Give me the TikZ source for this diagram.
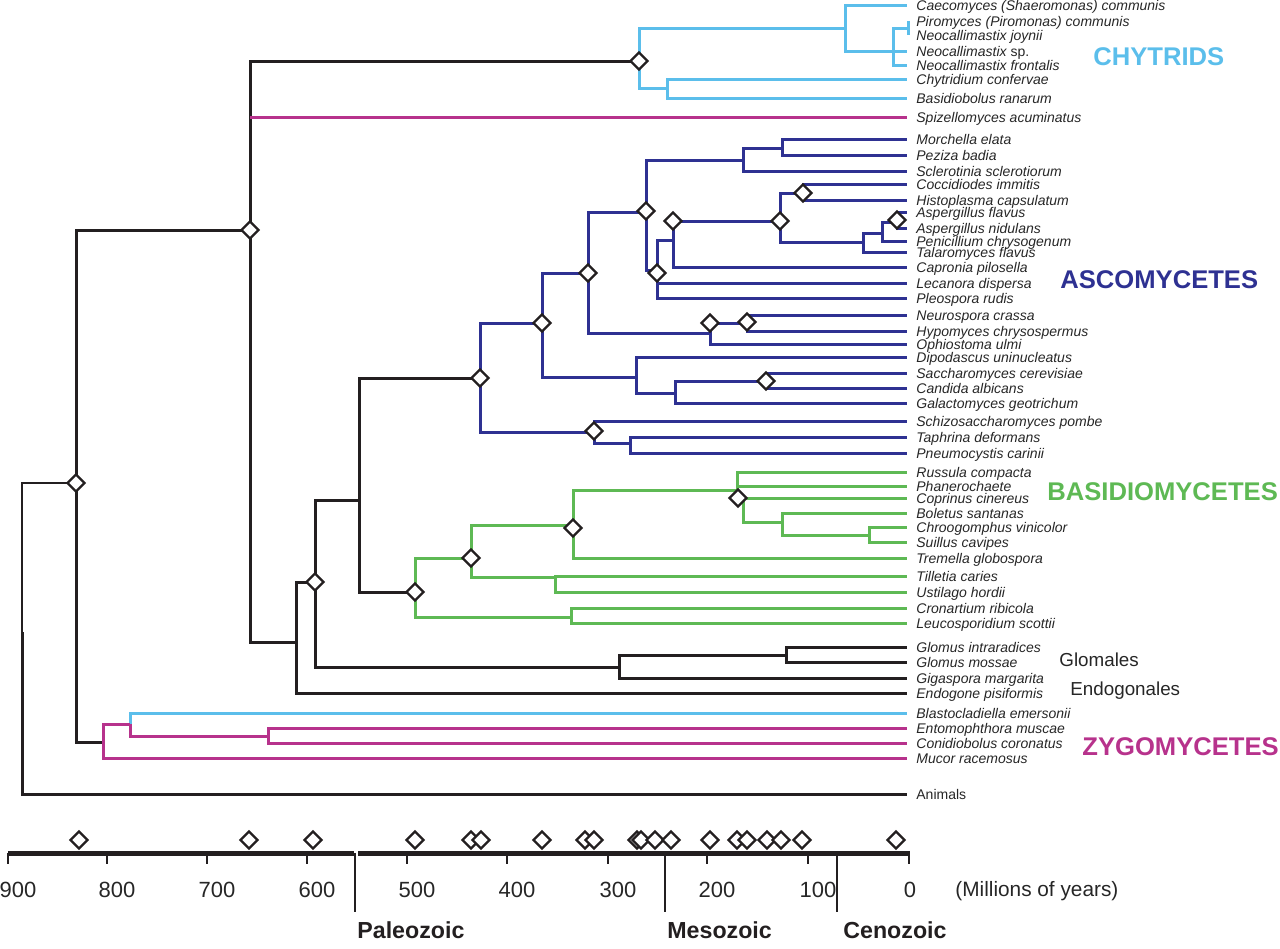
\documentclass[tikz,border=0pt]{standalone}
\usepackage{fontspec}
\setmainfont{Liberation Sans}
\usetikzlibrary{shapes.geometric}
\definecolor{chytblue}{HTML}{5BBEEB}
\definecolor{ascoblue}{HTML}{2E3192}
\definecolor{basigreen}{HTML}{5EB954}
\definecolor{zygomag}{HTML}{B7328C}
\definecolor{treeblack}{HTML}{231F20}

\begin{document}
\begin{tikzpicture}[x=0.5pt, y=-0.5pt,
    br/.style={line width=1.5pt},
    blk/.style={br, draw=treeblack},
    chy/.style={br, draw=chytblue},
    asc/.style={br, draw=ascoblue},
    bas/.style={br, draw=basigreen},
    zyg/.style={br, draw=zygomag},
    tip/.style={anchor=west, inner xsep=4.5pt, inner ysep=0pt, text height=5pt, text depth=0pt,
      font=\fontsize{7}{8}\selectfont\itshape, text=black!85},
    dia/.style={diamond, draw=treeblack, fill=white, line width=1.2pt, inner sep=0pt, minimum size=9pt},
    group/.style={anchor=base west, inner sep=0pt, font=\fontsize{12.8}{14}\selectfont\bfseries},
    order/.style={anchor=base west, inner sep=0pt, font=\fontsize{9.4}{11}\selectfont, text=black!85},
    era/.style={anchor=base west, inner sep=0pt, font=\fontsize{11.6}{13}\selectfont\bfseries, text=treeblack},
    tick/.style={anchor=base, inner sep=0pt, font=\fontsize{11}{12}\selectfont, text=black!85}]
  \useasboundingbox (0,0) rectangle (1280,948);

  % taxa
  \foreach \n/\y/\t in {caec/5/{Caecomyces (Shaeromonas) communis}, piro/21/{Piromyces (Piromonas) communis},
      njoy/35/{Neocallimastix joynii}, nsp/51/{Neocallimastix \upshape sp.}, nfro/65/{Neocallimastix frontalis},
      chyt/79/{Chytridium confervae}, basi/98/{Basidiobolus ranarum}, spiz/117/{Spizellomyces acuminatus},
      morc/139/{Morchella elata}, pezi/155/{Peziza badia}, scle/171/{Sclerotinia sclerotiorum},
      cocc/184/{Coccidiodes immitis}, hist/200/{Histoplasma capsulatum}, aflav/212/{Aspergillus flavus},
      anid/228/{Aspergillus nidulans}, peni/241/{Penicillium chrysogenum}, tala/252/{Talaromyces flavus},
      capr/267/{Capronia pilosella}, leca/283/{Lecanora dispersa}, pleo/298/{Pleospora rudis},
      neur/315/{Neurospora crassa}, hypo/331/{Hypomyces chrysospermus}, ophi/344/{Ophiostoma ulmi},
      dipo/357/{Dipodascus uninucleatus}, sacc/373/{Saccharomyces cerevisiae}, cand/388/{Candida albicans},
      gala/403/{Galactomyces geotrichum}, schi/421/{Schizosaccharomyces pombe}, taph/437/{Taphrina deformans},
      pneu/453/{Pneumocystis carinii}, russ/472/{Russula compacta}, phan/486/{Phanerochaete},
      copr/498/{Coprinus cinereus}, bole/513/{Boletus santanas}, chro/527/{Chroogomphus vinicolor},
      suil/542/{Suillus cavipes}, trem/558/{Tremella globospora}, till/576/{Tilletia caries},
      usti/592/{Ustilago hordii}, cron/608/{Cronartium ribicola}, leuc/623/{Leucosporidium scottii},
      gint/647/{Glomus intraradices}, gmos/662/{Glomus mossae}, giga/678/{Gigaspora margarita},
      endo/693/{Endogone pisiformis}, blas/713/{Blastocladiella emersonii}, ento/728/{Entomophthora muscae},
      coni/743/{Conidiobolus coronatus}, muco/758/{Mucor racemosus}, anim/794/{\upshape Animals}}
    \node[tip] (\n) at (907,\y) {\t};

  % branch points
  \coordinate (root) at (22,632);
  \coordinate (fungi) at (76,483);
  \coordinate (n250) at (250,230);
  \coordinate (chy) at (639,61);
  \coordinate (cae) at (845,28);
  \coordinate (neo) at (893,51);
  \coordinate (pir) at (908,28);
  \coordinate (chb) at (667,88);
  \coordinate (n296) at (296,642);
  \coordinate (n315) at (315,582);
  \coordinate (glo) at (619,667);
  \coordinate (glm) at (786,655);
  \coordinate (n359) at (359,500);
  \coordinate (asco) at (480,378);
  \coordinate (a542) at (542,323);
  \coordinate (a588) at (588,273);
  \coordinate (a646) at (646,212);
  \coordinate (a743) at (743,160);
  \coordinate (a782) at (782,148);
  \coordinate (a657) at (657,270);
  \coordinate (a673) at (673,240);
  \coordinate (a780) at (780,221);
  \coordinate (a803) at (803,193);
  \coordinate (a863) at (863,242);
  \coordinate (a882) at (882,233);
  \coordinate (a897) at (897,222);
  \coordinate (a710) at (710,333);
  \coordinate (a747) at (747,323);
  \coordinate (a636) at (636,377);
  \coordinate (a675) at (675,393);
  \coordinate (a766) at (766,381);
  \coordinate (a594) at (594,432);
  \coordinate (a630) at (630,443);
  \coordinate (basid) at (415,592);
  \coordinate (b471) at (471,558);
  \coordinate (b573) at (573,525);
  \coordinate (b737) at (737,490);
  \coordinate (b743) at (743,498);
  \coordinate (b782) at (782,522);
  \coordinate (b869) at (869,535);
  \coordinate (b555) at (555,577);
  \coordinate (b571) at (571,617);
  \coordinate (zygo) at (103,742);
  \coordinate (z130) at (130,724);
  \coordinate (z268) at (268,736);

  % branches
  \draw[line width=0.6pt, draw=treeblack] (fungi) -| (root);
  \draw[blk] (root) |- (anim);
  \foreach \p/\c in {fungi/n250, fungi/zygo, n250/chy, n250/n296, n296/n315, n296/endo,
      n315/n359, n315/glo, glo/glm, glo/giga, glm/gint, glm/gmos, n359/asco, n359/basid}
    \draw[blk] (\p) |- (\c);
  \foreach \p/\c in {chy/cae, chy/chb, cae/caec, cae/neo, neo/pir, neo/nsp, neo/nfro, chb/chyt, chb/basi, z130/blas}
    \draw[chy] (\p) |- (\c);
  \draw[chy] (pir |- piro) -- (pir |- njoy);
  \foreach \p/\c in {asco/a542, asco/a594, a542/a588, a542/a636, a588/a646, a588/a710,
      a646/a743, a646/a657, a743/a782, a743/scle, a782/morc, a782/pezi,
      a657/a673, a657/leca, a657/pleo, a673/a780, a673/capr, a780/a803, a780/a863,
      a803/cocc, a803/hist, a863/a882, a863/tala, a882/a897, a882/peni, a897/aflav, a897/anid,
      a710/a747, a710/ophi, a747/neur, a747/hypo, a636/dipo, a636/a675, a675/a766, a675/gala,
      a766/sacc, a766/cand, a594/schi, a594/a630, a630/taph, a630/pneu}
    \draw[asc] (\p) |- (\c);
  \foreach \p/\c in {basid/b471, basid/b571, b471/b573, b471/b555, b573/b737, b573/trem,
      b737/russ, b737/phan, b737/copr, b743/b782, b782/bole, b782/b869, b869/chro, b869/suil,
      b555/till, b555/usti, b571/cron, b571/leuc}
    \draw[bas] (\p) |- (\c);
  \draw[zyg] (n250 |- spiz) -- (spiz);
  \foreach \p/\c in {zygo/z130, zygo/muco, z130/z268, z268/ento, z268/coni}
    \draw[zyg] (\p) |- (\c);

  % dated nodes
  \foreach \x/\y [count=\i] in {76/483, 250/230, 315/582, 415/592, 471/558, 480/378, 542/323,
      573/528, 588/273, 594/431, 639/61, 646/211, 657/273, 673/221, 710/323, 738/498, 747/322,
      766/381, 780/221, 803/193, 897/220}
    \node[dia] (dt\i) at (\x,\y) {};

  % group labels
  \node[group, text=chytblue] (chytrids) at (1093,65) {CHYTRIDS};
  \node[group, text=ascoblue] (ascomy) at (1060,288) {ASCOMYCETES};
  \node[group, text=basigreen] (basidio) at (1047,500) {BASIDIOMYCETES};
  \node[group, text=zygomag] (zygomy) at (1082,755) {ZYGOMYCETES};
  \node[order] (glomales) at (1059,666) {Glomales};
  \node[order] (endogon) at (1070,695) {Endogonales};

  % time axis
  \draw[treeblack, line width=2.5pt] (8,853) -- (354,853);
  \draw[treeblack, line width=2.5pt] (358,853) -- (910,853);
  \foreach \x/\m [count=\i] in {8/900, 107/800, 207/700, 307/600, 407/500, 507/400, 608/300, 707/200, 808/100} {
    \draw[treeblack, line width=1pt] (\x,853) -- (\x,864);
    \node[tick] (my\i) at (\x+10,897) {\m};
  }
  \draw[treeblack, line width=1pt] (909,853) -- (909,864);
  \node[tick] (my0) at (910,897) {0};
  \node[anchor=base west, inner sep=0pt, font=\fontsize{10.4}{12}\selectfont, text=black!85] (units) at (955,896) {(Millions of years)};
  \foreach \x in {355, 665, 837}
    \draw[treeblack, line width=1pt] (\x,853) -- (\x,912);
  \node[era] (paleo) at (357,938) {Paleozoic};
  \node[era] (meso) at (667,938) {Mesozoic};
  \node[era] (ceno) at (843,938) {Cenozoic};
  \foreach \x [count=\i] in {79, 249, 313, 415, 471, 481, 542, 585, 594, 637, 641, 655, 671, 710, 737, 747, 767, 781, 802, 896}
    \node[dia] (da\i) at (\x,840) {};
\end{tikzpicture}
\end{document}
